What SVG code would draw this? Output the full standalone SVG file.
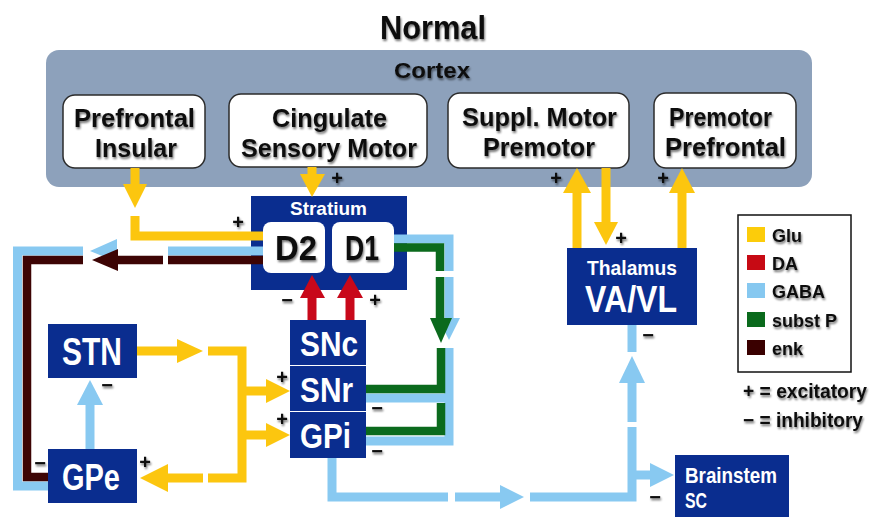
<svg xmlns="http://www.w3.org/2000/svg" width="872" height="517" viewBox="0 0 872 517">
<defs>
<filter id="sh" x="-10%" y="-20%" width="130%" height="150%">
<feGaussianBlur in="SourceAlpha" stdDeviation="1.3"/>
<feOffset dx="1" dy="1.5" result="b"/>
<feComponentTransfer><feFuncA type="linear" slope="0.55"/></feComponentTransfer>
<feMerge><feMergeNode/><feMergeNode in="SourceGraphic"/></feMerge>
</filter>
</defs>
<style>
text{font-family:"Liberation Sans","Arial",sans-serif;font-weight:bold}
.dk{fill:#111}
.wt{fill:#fff}
.node{fill:#0a2d8f}
.wbox{fill:#fff;stroke:#2b2b2b;stroke-width:1.5}
.sg{font-size:20px;fill:#111;text-anchor:middle}
.y{stroke:#fcc60f;stroke-width:9;fill:none}
.yh{fill:#fcc60f}
.b{stroke:#88c9f1;stroke-width:9;fill:none}
.bh{fill:#88c9f1}
.g{stroke:#0b6a1d;stroke-width:8.5;fill:none}
.gh{fill:#0b6a1d}
.e{stroke:#3d0404;stroke-width:8.5;fill:none}
.eh{fill:#3d0404}
.r{stroke:#c8081a;stroke-width:9;fill:none}
.rh{fill:#c8081a}
</style>
<rect width="872" height="517" fill="#fff"/>
<text x="380" y="39" font-size="33" textLength="106" lengthAdjust="spacingAndGlyphs" class="dk" filter="url(#sh)">Normal</text>

<g id="cortex">
<rect x="46" y="50" width="766" height="137" rx="13" fill="#8da1bb"/>
<text x="394" y="78" font-size="22" textLength="76" lengthAdjust="spacingAndGlyphs" class="dk" filter="url(#sh)">Cortex</text>
</g>
<g id="prefrontal-insular">
<rect x="63" y="95" width="142" height="73" rx="12" class="wbox"/>
<g class="dk" font-size="26" filter="url(#sh)">
<text x="74" y="127" textLength="121" lengthAdjust="spacingAndGlyphs">Prefrontal</text>
<text x="95" y="157" textLength="82" lengthAdjust="spacingAndGlyphs">Insular</text>
</g>
</g>
<g id="cingulate-sensory-motor">
<rect x="229" y="94" width="198" height="73" rx="12" class="wbox"/>
<g class="dk" font-size="26" filter="url(#sh)">
<text x="272" y="127" textLength="115" lengthAdjust="spacingAndGlyphs">Cingulate</text>
<text x="241" y="157" textLength="176" lengthAdjust="spacingAndGlyphs">Sensory Motor</text>
</g>
</g>
<g id="suppl-motor-premotor">
<rect x="448" y="93" width="181" height="75" rx="12" class="wbox"/>
<g class="dk" font-size="26" filter="url(#sh)">
<text x="462" y="126" textLength="155" lengthAdjust="spacingAndGlyphs">Suppl. Motor</text>
<text x="483" y="156" textLength="112" lengthAdjust="spacingAndGlyphs">Premotor</text>
</g>
</g>
<g id="premotor-prefrontal">
<rect x="654" y="93" width="142" height="75" rx="12" class="wbox"/>
<g class="dk" font-size="26" filter="url(#sh)">
<text x="669" y="126" textLength="103" lengthAdjust="spacingAndGlyphs">Premotor</text>
<text x="665" y="156" textLength="121" lengthAdjust="spacingAndGlyphs">Prefrontal</text>
</g>
</g>

<g id="stratium">
<rect x="251" y="196" width="156" height="94" class="node"/>
<text x="290" y="215" font-size="19" textLength="77" lengthAdjust="spacingAndGlyphs" class="wt">Stratium</text>
</g>

<g id="connectors">
<!-- GABA -->
<path class="b" d="M263,251 H168"/>
<polygon class="bh" points="117,239 117,262 90,251"/>
<path class="b" d="M83,251 H17.5 V486 H48"/>
<path class="b" d="M90,449 V404"/>
<polygon class="bh" points="77,405 103,405 90,380"/>
<path class="b" d="M394,239 H449 V271"/>
<path class="b" d="M449,277 V318"/>
<polygon class="bh" points="438,318 460,318 449,340"/>
<path class="b" d="M449,348 V441 H366"/>
<path class="b" d="M449,398 H366"/>
<path class="b" d="M332,458 V497 H448"/>
<path class="b" d="M455,497 H501"/>
<polygon class="bh" points="500,485 500,509 524,497"/>
<path class="b" d="M530,497 H632 V427"/>
<path class="b" d="M632,422 V381"/>
<polygon class="bh" points="619,383 645,383 632,356"/>
<path class="b" d="M632,352 V325"/>
<path class="b" d="M632,475 H651"/>
<polygon class="bh" points="650,463 650,487 674,475"/>
<!-- enk -->
<path class="e" d="M263,260 H168"/>
<path class="e" d="M163,260 H116"/>
<polygon class="eh" points="118,249 118,271 92,260"/>
<path class="e" d="M83,260 H27 V477 H48"/>
<!-- subst P -->
<path class="g" d="M394,247.5 H440 V271"/>
<path class="g" d="M440,277 V319"/>
<polygon class="gh" points="430,318 452,318 441,343"/>
<path class="g" d="M441,348 V389 H366"/>
<path class="g" d="M441,403 V431 H366"/>
<!-- Glu -->
<path class="y" d="M135,168 V185"/>
<polygon class="yh" points="123,184 147,184 135,208"/>
<path class="y" d="M135,216 V236 H263"/>
<path class="y" d="M312,167 V175"/>
<polygon class="yh" points="300,174 325,174 312,197"/>
<path class="y" d="M137,351 H178"/>
<polygon class="yh" points="177,339 177,363 203,351"/>
<path class="y" d="M208,351 H242 V478 H208"/>
<path class="y" d="M203,478 H166"/>
<polygon class="yh" points="168,464 168,492 140,478"/>
<path class="y" d="M242,391 H268"/>
<polygon class="yh" points="266,379 266,403 290,391"/>
<path class="y" d="M242,435 H268"/>
<polygon class="yh" points="266,423 266,447 290,435"/>
<path class="y" d="M577,248 V192"/>
<polygon class="yh" points="563,193 591,193 577,168"/>
<path class="y" d="M606,168 V224"/>
<polygon class="yh" points="594,222 618,222 606,245"/>
<path class="y" d="M682,248 V192"/>
<polygon class="yh" points="669,193 695,193 682,168"/>
<!-- DA -->
<path class="r" d="M312,320 V296"/>
<polygon class="rh" points="300,298 325,298 312,275"/>
<path class="r" d="M350,320 V296"/>
<polygon class="rh" points="337,298 363,298 350,275"/>
</g>

<g id="d2">
<rect x="263" y="222" width="62" height="51" rx="8" fill="#fff"/>
<text x="275" y="260" font-size="35" textLength="42" lengthAdjust="spacingAndGlyphs" class="dk" filter="url(#sh)">D2</text>
</g>
<g id="d1">
<rect x="332" y="222" width="62" height="51" rx="8" fill="#fff"/>
<text x="345" y="260" font-size="35" textLength="34" lengthAdjust="spacingAndGlyphs" class="dk" filter="url(#sh)">D1</text>
</g>

<g id="snc">
<rect x="290" y="320" width="76" height="45" class="node"/>
<text x="300" y="356" font-size="35" textLength="58" lengthAdjust="spacingAndGlyphs" class="wt">SNc</text>
</g>
<g id="snr">
<rect x="290" y="366" width="76" height="45" class="node"/>
<text x="300" y="402" font-size="35" textLength="53" lengthAdjust="spacingAndGlyphs" class="wt">SNr</text>
</g>
<g id="gpi">
<rect x="290" y="412" width="76" height="46" class="node"/>
<text x="300" y="448" font-size="35" textLength="51" lengthAdjust="spacingAndGlyphs" class="wt">GPi</text>
</g>
<g id="stn">
<rect x="48" y="324" width="89" height="54" class="node"/>
<text x="62" y="365" font-size="38" textLength="60" lengthAdjust="spacingAndGlyphs" class="wt">STN</text>
</g>
<g id="gpe">
<rect x="48" y="449" width="89" height="54" class="node"/>
<text x="62" y="490" font-size="37" textLength="58" lengthAdjust="spacingAndGlyphs" class="wt">GPe</text>
</g>
<g id="thalamus">
<rect x="567" y="248" width="130" height="77" class="node"/>
<text x="587" y="275" font-size="21" textLength="90" lengthAdjust="spacingAndGlyphs" class="wt">Thalamus</text>
<text x="585" y="312" font-size="37" textLength="92" lengthAdjust="spacingAndGlyphs" class="wt">VA/VL</text>
</g>
<g id="brainstem">
<rect x="675" y="455" width="114" height="65" class="node"/>
<text x="685" y="483" font-size="22" textLength="92" lengthAdjust="spacingAndGlyphs" class="wt">Brainstem</text>
<text x="685" y="508" font-size="22" textLength="22" lengthAdjust="spacingAndGlyphs" class="wt">SC</text>
</g>

<g id="signs" filter="url(#sh)">
<text class="sg" x="238" y="229">+</text>
<text class="sg" x="337" y="185">+</text>
<text class="sg" x="556" y="185">+</text>
<text class="sg" x="663" y="185">+</text>
<text class="sg" x="621" y="245">+</text>
<text class="sg" x="287" y="307">−</text>
<text class="sg" x="375" y="307">+</text>
<text class="sg" x="282" y="384">+</text>
<text class="sg" x="282" y="426">+</text>
<text class="sg" x="377" y="415">−</text>
<text class="sg" x="377" y="458">−</text>
<text class="sg" x="107" y="392">−</text>
<text class="sg" x="40" y="470">−</text>
<text class="sg" x="145" y="469">+</text>
<text class="sg" x="648" y="342">−</text>
<text class="sg" x="655" y="504">−</text>
</g>

<g id="legend">
<rect x="738" y="215" width="113" height="157" fill="#fff" stroke="#111" stroke-width="1.5"/>
<rect x="747" y="227" width="18" height="15" fill="#fccc0a"/>
<rect x="747" y="255" width="18" height="15" fill="#c70a14"/>
<rect x="747" y="283" width="18" height="15" fill="#86c8f0"/>
<rect x="747" y="312" width="18" height="15" fill="#0a6a1c"/>
<rect x="747" y="340" width="18" height="15" fill="#3a0000"/>
<g class="dk" font-size="18" filter="url(#sh)">
<text x="772" y="242">Glu</text>
<text x="772" y="270">DA</text>
<text x="772" y="298">GABA</text>
<text x="772" y="327">subst P</text>
<text x="772" y="355">enk</text>
</g>
<g class="dk" font-size="20" filter="url(#sh)">
<text x="743" y="398" textLength="124" lengthAdjust="spacingAndGlyphs">+ = excitatory</text>
<text x="743" y="427" textLength="120" lengthAdjust="spacingAndGlyphs">− = inhibitory</text>
</g>
</g>
</svg>
